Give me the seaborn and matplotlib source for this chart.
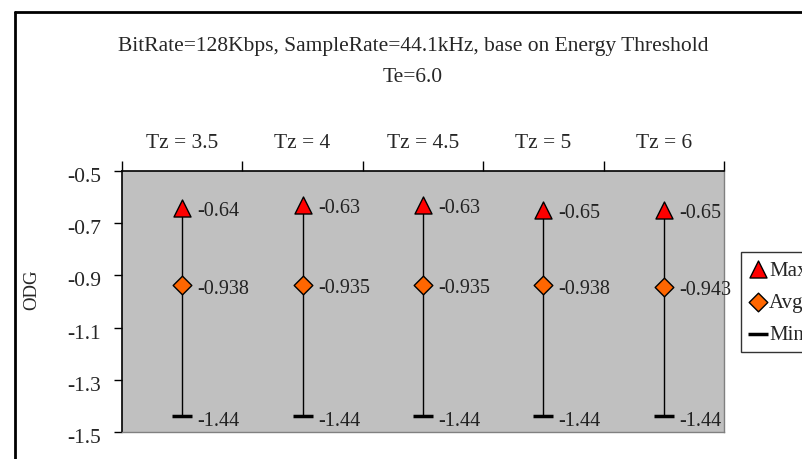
import matplotlib
matplotlib.use("Agg")
import matplotlib.pyplot as plt
import matplotlib.transforms as mtransforms
from matplotlib.lines import Line2D
import seaborn as sns
import pandas as pd

categories = ["Tz = 3.5", "Tz = 4", "Tz = 4.5", "Tz = 5", "Tz = 6"]
max_vals = [-0.64, -0.63, -0.63, -0.65, -0.65]
avg_vals = [-0.938, -0.935, -0.935, -0.938, -0.943]
min_vals = [-1.44, -1.44, -1.44, -1.44, -1.44]
max_labels = ["-0.64", "-0.63", "-0.63", "-0.65", "-0.65"]
avg_labels = ["-0.938", "-0.935", "-0.935", "-0.938", "-0.943"]
min_labels = ["-1.44", "-1.44", "-1.44", "-1.44", "-1.44"]
yticks = [-0.5, -0.7, -0.9, -1.1, -1.3, -1.5]
title = "BitRate=128Kbps, SampleRate=44.1kHz, base on Energy Threshold\nTe=6.0"

sns.set_theme(style="white")
plt.rcParams['font.family'] = ['Liberation Serif', 'DejaVu Serif']

W, H = 803, 460
fig = plt.figure(figsize=(W / 100, H / 100), dpi=100)
ax = fig.add_axes([122 / W, 1 - 433 / H, (724 - 122) / W, (433 - 172) / H])
ax.set_facecolor("#C0C0C0")

pos = list(range(len(categories)))
df = pd.DataFrame({"pos": pos, "cat": categories, "Max": max_vals,
                   "Avg": avg_vals, "Min": min_vals})

# high-low lines
ax.vlines(df["pos"], df["Min"], df["Max"], color="black", lw=1.0, zorder=1)

sns.scatterplot(data=df, x="pos", y="Max", marker="^", s=150, color="#FF0000",
                edgecolor="black", linewidth=1.0, ax=ax, zorder=3, label="Max")
sns.scatterplot(data=df, x="pos", y="Avg", marker="D", s=90, color="#FF6600",
                edgecolor="black", linewidth=1.0, ax=ax, zorder=3, label="Avg")
sns.scatterplot(data=df, x="pos", y="Min", marker="_", s=200, color="black",
                linewidth=2.5, ax=ax, zorder=3, label="Min")

fs_lab = 14.5
for i in pos:
    ax.annotate(max_labels[i], (i, max_vals[i]), xytext=(11, -2), textcoords="offset points",
                ha="left", va="center", fontsize=fs_lab, color="#222222")
    ax.annotate(avg_labels[i], (i, avg_vals[i]), xytext=(11, -2), textcoords="offset points",
                ha="left", va="center", fontsize=fs_lab, color="#222222")
    ax.annotate(min_labels[i], (i, min_vals[i]), xytext=(11, -3), textcoords="offset points",
                ha="left", va="center", fontsize=fs_lab, color="#222222")

ax.set_xlim(-0.5, len(categories) - 0.5)
ax.set_ylim(-1.5, -0.5)
ax.set_yticks(yticks)
ax.set_yticklabels([f"{v:.1f}" for v in yticks], fontsize=15.5)
ax.tick_params(axis="y", which="both", left=True, length=6, width=1, color="black",
               direction="out", pad=9)
shift = mtransforms.ScaledTranslation(0, -3 / 100, fig.dpi_scale_trans)
for lab in ax.get_yticklabels():
    lab.set_transform(lab.get_transform() + shift)

ax.xaxis.tick_top()
ax.set_xticks(pos)
ax.set_xticklabels(categories, fontsize=15.5)
ax.set_xticks([p - 0.5 for p in pos] + [len(pos) - 0.5], minor=True)
ax.tick_params(axis="x", which="major", top=False, bottom=False, pad=8)
ax.tick_params(axis="x", which="minor", top=True, bottom=False, length=7, width=1,
               color="black", direction="out")
ax.set_xlabel("")
ax.set_ylabel("")

for side in ["left", "top"]:
    ax.spines[side].set_color("black")
    ax.spines[side].set_linewidth(1.2)
for side in ["right", "bottom"]:
    ax.spines[side].set_color("#808080")
    ax.spines[side].set_linewidth(1.0)

fig.text(32 / W, 1 - 290 / H, "ODG", rotation=90, ha="center", va="center", fontsize=13.5)
fig.text(413 / W, 1 - 62 / H, title, ha="center", va="center", fontsize=15.5,
         linespacing=1.85)

# chart frame (cropped)
fig.add_artist(Line2D([15 / W, 15 / W], [0, 1 - 13 / H], color="black", lw=2,
                      transform=fig.transFigure))
fig.add_artist(Line2D([15 / W, 1], [1 - 13 / H, 1 - 13 / H], color="black", lw=2,
                      transform=fig.transFigure))

leg = ax.legend(loc="upper left", bbox_to_anchor=(741 / W, 1 - 253 / H),
                bbox_transform=fig.transFigure, frameon=True, fancybox=False,
                fontsize=15, handletextpad=0.15, handlelength=0.8, labelspacing=0.6,
                borderpad=0.4, borderaxespad=0)
leg.get_frame().set_edgecolor("black")
leg.get_frame().set_linewidth(1.0)

fig.savefig("out.png", dpi=100, facecolor="white")
